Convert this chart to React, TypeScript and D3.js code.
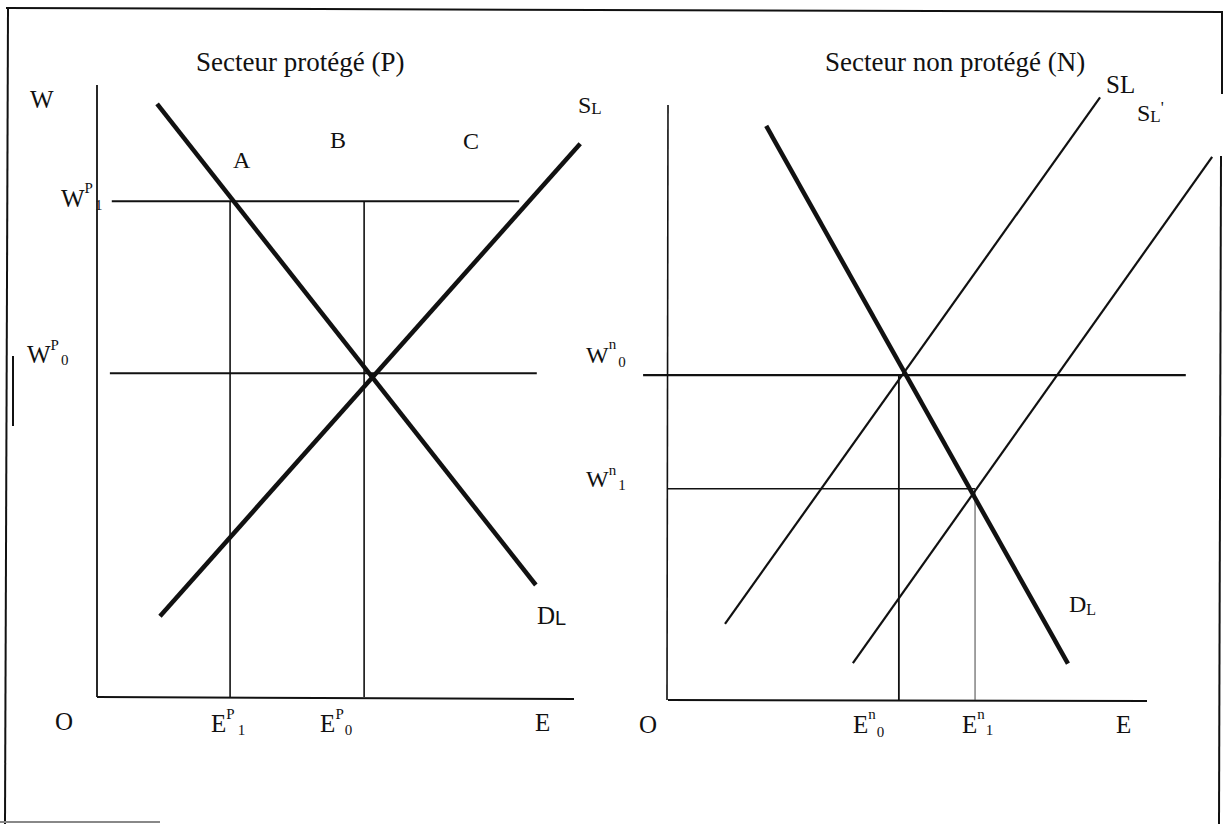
import React from "react";
import * as d3 from "d3";

// ---------- Data (economic units, 0..100 on each axis) ----------
// Protected sector (P)
const protectedWages = [81.0, 52.9]; // W^P_1, W^P_0
const protectedWageSpans = [
  [3.1, 88.5],
  [2.7, 92.2],
];
const protectedEmployment = [27.9, 56.0]; // E^P_1, E^P_0
const protectedDemand: [number, number][] = [
  [12.6, 96.9],
  [92.0, 18.3],
];
const protectedSupply: [number, number][] = [
  [13.2, 13.2],
  [101.3, 90.4],
];

// Unprotected sector (N)
const unprotectedWages = [54.6, 35.5]; // W^n_0, W^n_1
const unprotectedWageSpans = [
  [-5.2, 108.1],
  [0, 64.1],
];
const unprotectedEmployment = [48.2, 64.1]; // E^n_0, E^n_1
const unprotectedDemand: [number, number][] = [
  [20.5, 96.5],
  [83.5, 6.1],
];
const unprotectedSupply: [number, number][] = [
  [11.9, 12.8],
  [90.2, 101.3],
];
const unprotectedSupplyShifted: [number, number][] = [
  [38.6, 6.2],
  [113.6, 91.3],
];

const titles = ["Secteur protégé (P)", "Secteur non protégé (N)"];

const FONT = "'Liberation Serif', 'Times New Roman', serif";

function Lbl({
  x,
  y,
  main,
  sup,
  sub,
  size = 25,
  supSize = 15,
  subSize = 15,
  supDy = -12,
  subDy = 15,
  subDx = 2,
  subFont,
}: any) {
  return (
    <text x={x} y={y} fontFamily={FONT} fontSize={size} fill="#111">
      <tspan>{main}</tspan>
      {sup !== undefined && (
        <tspan dy={supDy} fontSize={supSize}>
          {sup}
        </tspan>
      )}
      {sub !== undefined && (
        <tspan
          dx={subDx}
          dy={sup !== undefined ? subDy : subDy}
          fontSize={subSize}
          fontFamily={subFont || FONT}
        >
          {sub}
        </tspan>
      )}
    </text>
  );
}

export default function App() {
  // Left panel scales
  const lx = d3.scaleLinear().domain([0, 100]).range([97, 574]);
  const ly = d3.scaleLinear().domain([0, 100]).range([697, 85]);
  // Right panel scales
  const rx = d3.scaleLinear().domain([0, 100]).range([668, 1147]);
  const ry = d3.scaleLinear().domain([0, 100]).range([700, 105]);

  const lLine = d3
    .line<[number, number]>()
    .x((d) => lx(d[0]))
    .y((d) => ly(d[1]));
  const rLine = d3
    .line<[number, number]>()
    .x((d) => rx(d[0]))
    .y((d) => ry(d[1]));

  const ink = "#111";

  return (
    <svg
      width={1224}
      height={824}
      style={{ position: "absolute", left: 0, top: 0, background: "#fff" }}
    >
      <rect x={0} y={0} width={1224} height={824} fill="#fff" />
      {/* frame */}
      <line x1={6} y1={8} x2={1222} y2={12} stroke={ink} strokeWidth={2} />
      <line x1={8} y1={9} x2={5} y2={824} stroke={ink} strokeWidth={2} />
      <line x1={13} y1={356} x2={13} y2={426} stroke={ink} strokeWidth={2} />
      <line x1={1222} y1={11} x2={1222} y2={94} stroke={ink} strokeWidth={2} />
      <line x1={1221} y1={156} x2={1219} y2={824} stroke={ink} strokeWidth={2} />
      <line x1={0} y1={822} x2={160} y2={822} stroke="#888" strokeWidth={2} />

      {/* ---------- Left panel ---------- */}
      <line x1={lx(0)} y1={ly(100)} x2={lx(0)} y2={ly(0)} stroke={ink} strokeWidth={1.8} />
      <line x1={lx(0)} y1={ly(0)} x2={lx(100)} y2={ly(0) + 2} stroke={ink} strokeWidth={2} />
      {protectedWages.map((w, i) => (
        <line
          key={"lw" + i}
          x1={lx(protectedWageSpans[i][0])}
          x2={lx(protectedWageSpans[i][1])}
          y1={ly(w)}
          y2={ly(w)}
          stroke={ink}
          strokeWidth={2}
        />
      ))}
      {protectedEmployment.map((e, i) => (
        <line
          key={"le" + i}
          x1={lx(e)}
          x2={lx(e)}
          y1={ly(protectedWages[0])}
          y2={ly(0)}
          stroke={ink}
          strokeWidth={1.6}
        />
      ))}
      <path d={lLine(protectedDemand) || ""} stroke={ink} strokeWidth={4.5} fill="none" />
      <path d={lLine(protectedSupply) || ""} stroke={ink} strokeWidth={4.5} fill="none" />

      <text x={196} y={71} fontFamily={FONT} fontSize={27} fill={ink}>
        {titles[0]}
      </text>
      <Lbl x={30} y={108} main="W" />
      <Lbl x={61} y={207} main="W" sup="P" sub="1" supDy={-14} subDy={17} />
      <Lbl x={27} y={363} main="W" sup="P" sub="0" supDy={-13} subDy={15} />
      <Lbl x={233} y={168} main="A" size={24} />
      <Lbl x={330} y={148} main="B" size={24} />
      <Lbl x={463} y={149} main="C" size={24} />
      <Lbl x={578} y={113} main="S" sub="L" size={24} subSize={17} subDx={0} subDy={1} />
      <Lbl
        x={537}
        y={624}
        main="D"
        sub="L"
        size={25}
        subSize={20}
        subDx={0}
        subDy={1}
        subFont="'Liberation Sans', Arial, sans-serif"
      />
      <Lbl x={55} y={730} main="O" />
      <Lbl x={lx(protectedEmployment[0]) - 19} y={732} main="E" sup="P" sub="1" supDy={-13} subDy={16} subDx={3} />
      <Lbl x={lx(protectedEmployment[1]) - 44} y={732} main="E" sup="P" sub="0" supDy={-13} subDy={16} subDx={1} />
      <Lbl x={535} y={731} main="E" />

      {/* ---------- Right panel ---------- */}
      <line x1={rx(0)} y1={ry(100)} x2={rx(0) - 1} y2={ry(0)} stroke={ink} strokeWidth={1.6} />
      <line x1={rx(0)} y1={ry(0)} x2={rx(100)} y2={ry(0) + 1} stroke={ink} strokeWidth={2} />
      {unprotectedWages.map((w, i) => (
        <line
          key={"rw" + i}
          x1={rx(unprotectedWageSpans[i][0])}
          x2={rx(unprotectedWageSpans[i][1])}
          y1={ry(w)}
          y2={ry(w)}
          stroke={ink}
          strokeWidth={i === 0 ? 2.2 : 1.5}
        />
      ))}
      {unprotectedEmployment.map((e, i) => (
        <line
          key={"re" + i}
          x1={rx(e)}
          x2={rx(e)}
          y1={ry(unprotectedWages[i])}
          y2={ry(0)}
          stroke={i === 0 ? ink : "#555"}
          strokeWidth={i === 0 ? 1.8 : 1.1}
        />
      ))}
      <path d={rLine(unprotectedSupply) || ""} stroke={ink} strokeWidth={2.2} fill="none" />
      <path d={rLine(unprotectedSupplyShifted) || ""} stroke={ink} strokeWidth={2.2} fill="none" />
      <path d={rLine(unprotectedDemand) || ""} stroke={ink} strokeWidth={4.5} fill="none" />

      <text x={825} y={71} fontFamily={FONT} fontSize={27} fill={ink}>
        {titles[1]}
      </text>
      <Lbl x={1106} y={93} main="SL" size={25} />
      <text x={1137} y={121} fontFamily={FONT} fontSize={24} fill={ink}>
        S<tspan fontSize={17} dy={1}>L</tspan>
        <tspan dy={-9} fontSize={17}>'</tspan>
      </text>
      <Lbl x={586} y={363} main="W" sup="n" sub="0" size={24} supDy={-14} subDy={18} subDx={2} />
      <Lbl x={586} y={487} main="W" sup="n" sub="1" size={24} supDy={-12} subDy={15} subDx={2} />
      <Lbl x={639} y={733} main="O" />
      <Lbl x={rx(unprotectedEmployment[0]) - 46} y={733} main="E" sup="n" sub="0" supDy={-14} subDy={18} subDx={1} />
      <Lbl x={rx(unprotectedEmployment[1]) - 13} y={733} main="E" sup="n" sub="1" supDy={-14} subDy={16} subDx={1} />
      <Lbl x={1116} y={733} main="E" />
      <Lbl x={1069} y={612} main="D" sub="L" size={24} subSize={16} subDx={0} subDy={3} />
    </svg>
  );
}
